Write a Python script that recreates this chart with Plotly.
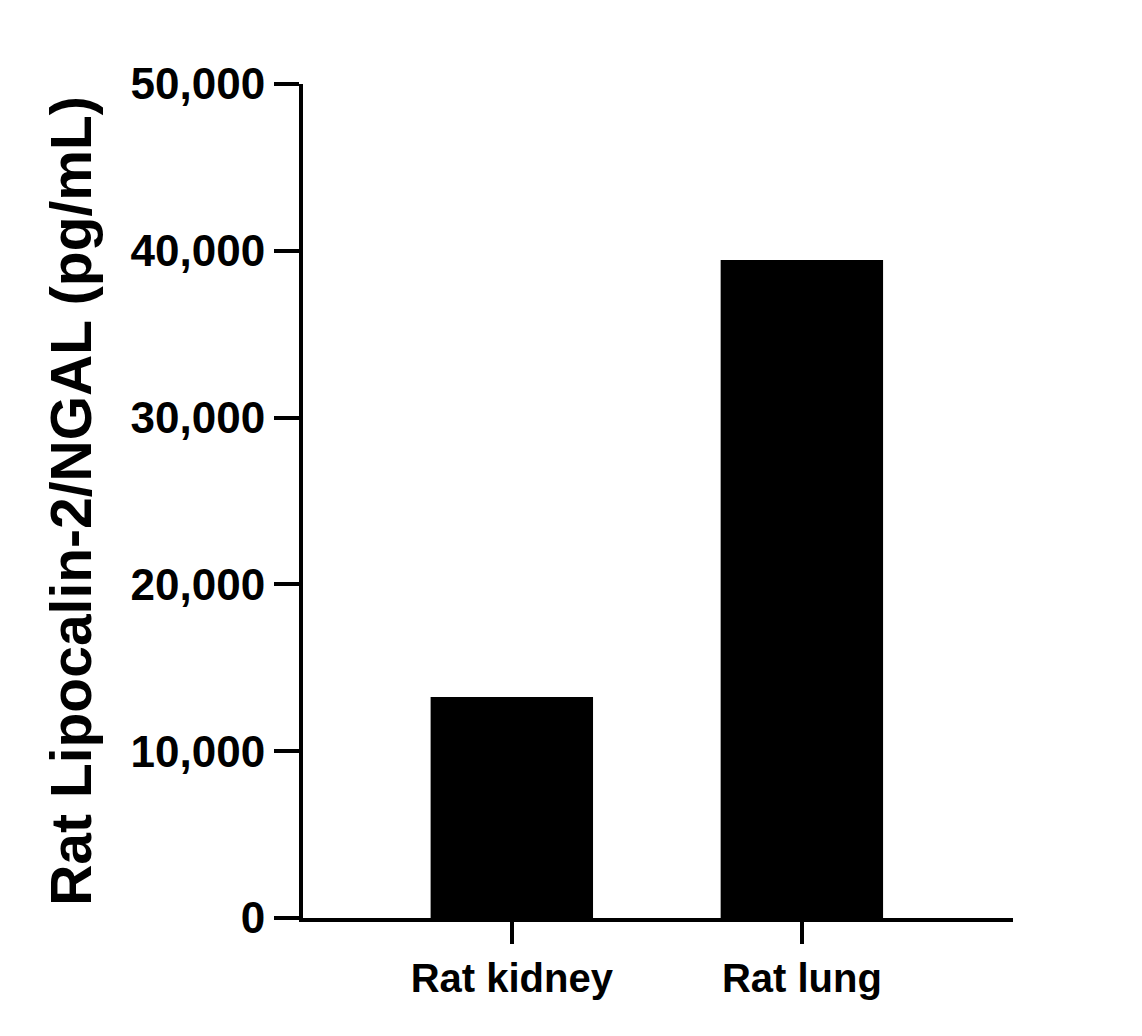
import plotly.graph_objects as go

categories = ["Rat kidney", "Rat lung"]
values = [13250, 39450]
tick_vals = [0, 10000, 20000, 30000, 40000, 50000]
tick_text = ["0", "10,000", "20,000", "30,000", "40,000", "50,000"]

fig = go.Figure(go.Bar(x=[0, 1], y=values, width=0.56, marker_color="black", marker_line_width=0))
fig.update_layout(
    width=1142, height=1036, plot_bgcolor="white", paper_bgcolor="white",
    margin=dict(l=295, r=137, t=76, b=126),
    font=dict(family="Liberation Sans, Arial", color="black"),
    showlegend=False,
)
fig.update_xaxes(range=[-0.72, 1.728], tickvals=[0, 1], ticktext=["<b>%s</b>" % c for c in categories],
                 showline=True, linewidth=4, linecolor="black", ticks="outside",
                 ticklen=22, tickwidth=4, tickcolor="black", showgrid=False,
                 tickfont=dict(size=40))
fig.update_yaxes(range=[0, 50000], tickvals=tick_vals, ticktext=["<b>%s</b>" % t for t in tick_text],
                 showline=True, linewidth=4, linecolor="black", ticks="outside",
                 ticklen=25, tickwidth=4, tickcolor="black", showgrid=False, zeroline=False,
                 tickfont=dict(size=44),
                 title=dict(text="<b>Rat Lipocalin-2/NGAL (pg/mL)</b>", font=dict(size=57), standoff=22))
fig.write_html("out.html")
